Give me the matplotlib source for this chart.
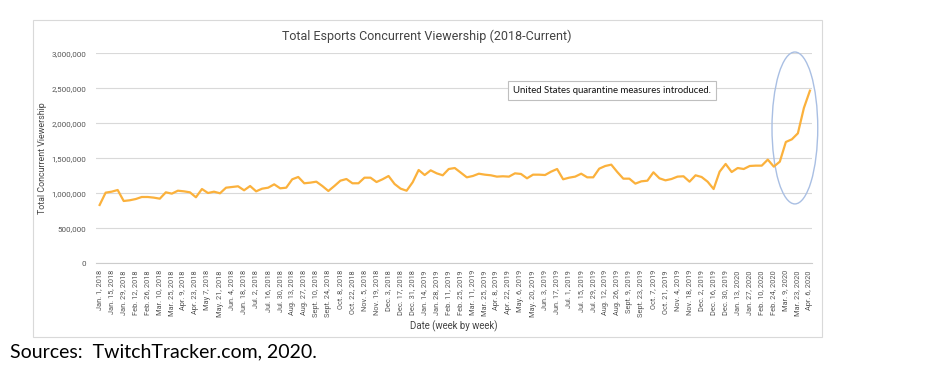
import matplotlib.pyplot as plt
from matplotlib.patches import Ellipse, Rectangle
from matplotlib.ticker import FuncFormatter

## weekly concurrent viewers, Jan 1 2018 .. Apr 6 2020 (millions)
viewers_m = [
    0.833, 1.009, 1.023, 1.047, 0.890, 0.900, 0.918, 0.947, 0.947, 0.938,
    0.923, 1.014, 0.995, 1.037, 1.028, 1.014, 0.943, 1.061, 1.004, 1.023,
    1.000, 1.080, 1.090, 1.100, 1.043, 1.104, 1.028, 1.066, 1.080, 1.128,
    1.071, 1.080, 1.200, 1.233, 1.143, 1.152, 1.166, 1.104, 1.033, 1.104,
    1.180, 1.204, 1.143, 1.143, 1.223, 1.223, 1.161, 1.200, 1.247, 1.133,
    1.066, 1.037, 1.157, 1.333, 1.261, 1.328, 1.285, 1.257, 1.347, 1.361,
    1.295, 1.228, 1.247, 1.280, 1.266, 1.257, 1.238, 1.243, 1.238, 1.285,
    1.276, 1.214, 1.266, 1.266, 1.261, 1.309, 1.347, 1.200, 1.223, 1.238,
    1.280, 1.228, 1.228, 1.352, 1.390, 1.409, 1.304, 1.209, 1.209, 1.138,
    1.171, 1.180, 1.300, 1.214, 1.185, 1.204, 1.238, 1.243, 1.166, 1.257,
    1.233, 1.166, 1.061, 1.309, 1.419, 1.304, 1.361, 1.347, 1.390, 1.395,
    1.395, 1.481, 1.381, 1.452, 1.733, 1.771, 1.857, 2.219, 2.466,
]
viewers = [v * 1e6 for v in viewers_m]

## tick labels, one every two weeks
week_labels = [
    "Jan. 1, 2018", "Jan. 15, 2018", "Jan. 29, 2018", "Feb. 12, 2018", "Feb. 26, 2018",
    "Mar. 10, 2018", "Mar. 25, 2018", "Apr. 9, 2018", "Apr. 23, 2018", "May 7, 2018",
    "May. 21, 2018", "Jun. 4, 2018", "Jun. 18, 2018", "Jul. 2, 2018", "Jul. 16, 2018",
    "Jul. 30, 2018", "Aug. 13, 2018", "Aug. 27, 2018", "Sept. 10, 2018", "Sept. 24, 2018",
    "Oct. 8, 2018", "Oct. 22, 2018", "Nov. 5, 2018", "Nov. 19, 2018", "Dec. 3, 2018",
    "Dec. 17, 2018", "Dec. 31, 2018", "Jan. 14, 2019", "Jan. 28, 2019", "Feb. 11, 2019",
    "Feb. 25, 2019", "Mar. 11, 2019", "Mar. 25, 2019", "Apr. 8, 2019", "Apr. 22, 2019",
    "May. 6, 2019", "May. 20, 2019", "Jun. 3, 2019", "Jun. 17, 2019", "Jul. 1, 2019",
    "Jul. 15, 2019", "Jul. 29, 2019", "Aug. 12, 2019", "Aug. 26, 2019", "Sept. 9, 2019",
    "Sept. 23, 2019", "Oct. 7, 2019", "Oct. 21, 2019", "Nov. 4, 2019", "Nov. 18, 2019",
    "Dec. 2, 2019", "Dec. 16, 2019", "Dec. 30, 2019", "Jan. 13, 2020", "Jan. 27, 2020",
    "Feb. 10, 2020", "Feb. 24, 2020", "Mar. 9, 2020", "Mar. 23, 2020", "Apr. 6, 2020",
]
y_ticks = [0, 500000, 1000000, 1500000, 2000000, 2500000, 3000000]

note = "United States quarantine measures introduced."
source = "Sources:  TwitchTracker.com, 2020."

plt.rcParams['font.family'] = ['Roboto', 'DejaVu Sans']

fig = plt.figure(figsize=(9.44, 3.79), dpi=100)
ax = fig.add_axes([0.1017, 0.3053, 0.7585, 0.5541])

# outer chart frame
fig.patches.append(Rectangle((33 / 944, 1 - 337 / 379), (822 - 33) / 944, (337 - 20) / 379,
                             transform=fig.transFigure, fill=False,
                             edgecolor='#d9d9d9', linewidth=0.8))

weeks = list(range(len(viewers)))
ax.plot(weeks, viewers, color='#fbb13c', linewidth=1.6, solid_joinstyle='round')

ax.set_ylim(0, 3000000)
ax.set_xlim(-0.6, len(viewers) - 0.65)
ax.set_yticks(y_ticks)
ax.yaxis.set_major_formatter(FuncFormatter(lambda v, p: f"{int(v):,}"))
ax.set_xticks(weeks[::2])
ax.set_xticklabels(week_labels, rotation=90, fontsize=5.3, color='#555555')
ax.tick_params(axis='y', labelsize=5.8, labelcolor='#555555', length=0, pad=7)
ax.tick_params(axis='x', length=0, pad=5)
ax.grid(axis='y', color='#d9d9d9', linewidth=0.8)
ax.set_axisbelow(True)
for s in ['top', 'right', 'left']:
    ax.spines[s].set_visible(False)
ax.spines['bottom'].set_color('#cccccc')
ax.spines['bottom'].set_linewidth(0.8)

ax.set_ylabel("Total Concurrent Viewership", fontsize=6.4, color='#444444', labelpad=3)
ax.set_xlabel("Date (week by week)", fontsize=6.9, color='#444444', labelpad=2)

fig.text(427 / 944, 1 - 36 / 379, "Total Esports Concurrent Viewership (2018-Current)",
         fontsize=9.0, color='#444444', ha='center', va='center')

# circle round the last weeks
ax.add_patch(Ellipse((115.5, 1.933e6), 7.6, 2.17e6, fill=False,
                     edgecolor='#a9bfe3', linewidth=1.0, clip_on=False))

ax.text(612 / 944, 1 - 90.5 / 379, note, transform=fig.transFigure, fontsize=6.9,
        family=['Lato', 'DejaVu Sans'], ha='center', va='center', color='#111111',
        bbox=dict(boxstyle='square,pad=0.5', facecolor='white',
                  edgecolor='#bfbfbf', linewidth=0.8))

fig.text(10 / 944, 1 - 352 / 379, source, fontsize=14, family=['Lato', 'DejaVu Sans'],
         ha='left', va='center', color='black')

fig.savefig("out.png", dpi=100)
